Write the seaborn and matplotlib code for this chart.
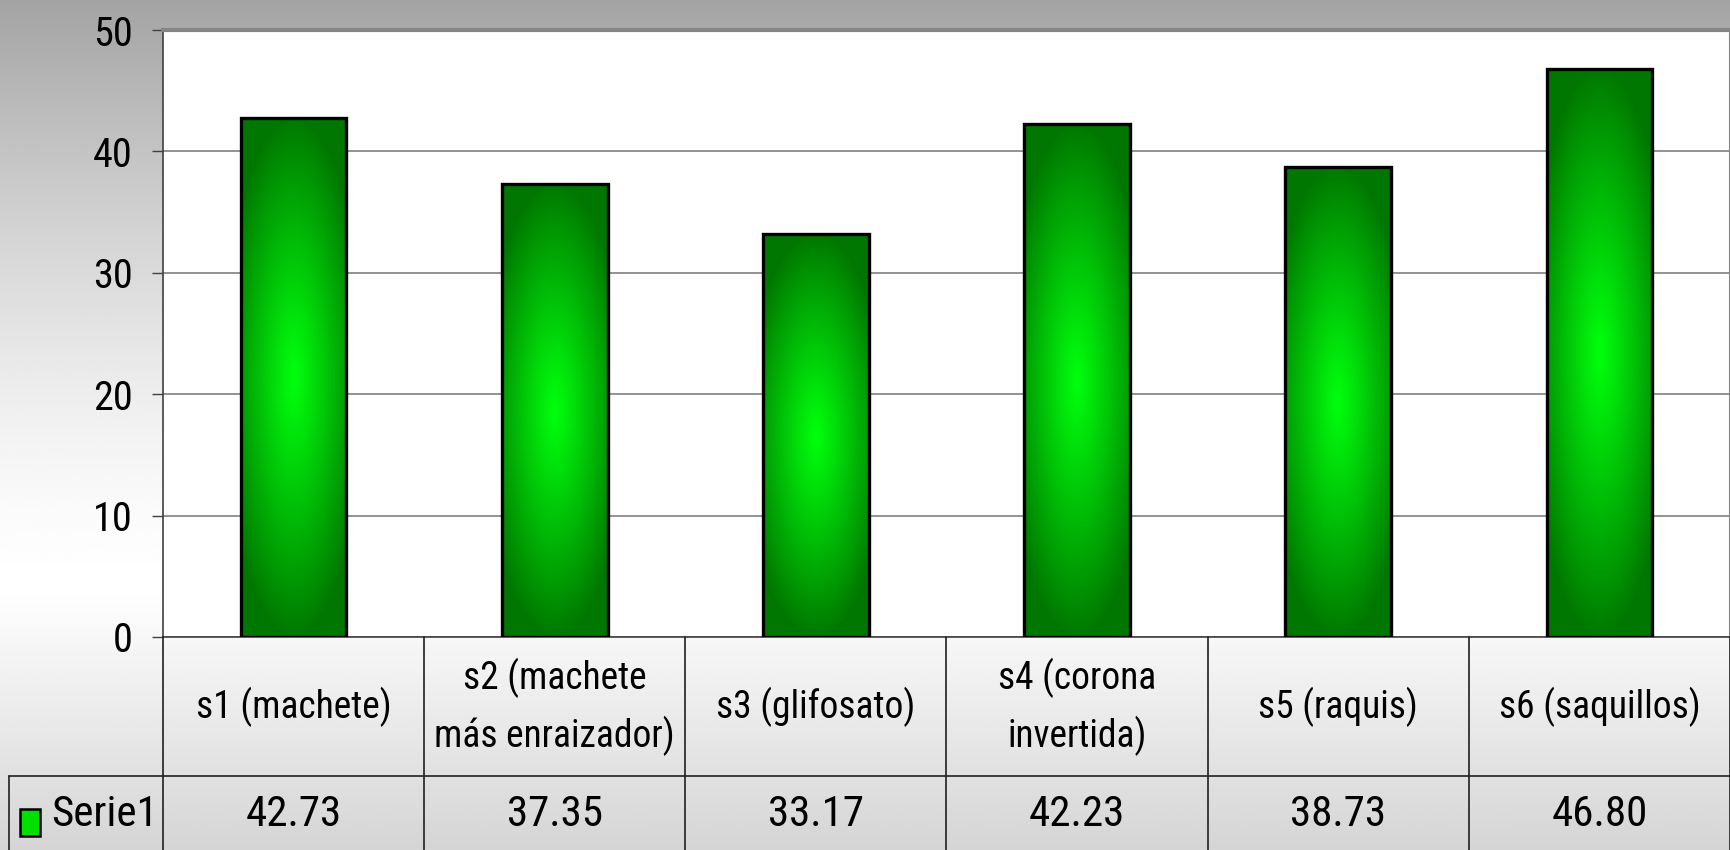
import numpy as np
import matplotlib
matplotlib.use("Agg")
import matplotlib.pyplot as plt
from matplotlib import font_manager
from matplotlib.patches import Rectangle
from matplotlib.lines import Line2D
import seaborn as sns

# ---- data ----
categories = ["s1 (machete)", "s2 (machete\nmás enraizador)", "s3 (glifosato)",
              "s4 (corona\ninvertida)", "s5 (raquis)", "s6 (saquillos)"]
values = [42.73, 37.35, 33.17, 42.23, 38.73, 46.80]
series_name = "Serie1"
y_ticks = [0, 10, 20, 30, 40, 50]

sns.set_style("white")
installed = {f.name for f in font_manager.fontManager.ttflist}
narrow_choices = ["Liberation Sans Narrow", "Arial Narrow", "Nimbus Sans Narrow",
                  "Roboto Condensed", "Archivo Narrow", "PT Sans Narrow",
                  "Liberation Sans"]
family = next(f for f in narrow_choices if f in installed or f == "Liberation Sans")
plt.rcParams["font.family"] = [family, "DejaVu Sans"]

W, H, DPI = 1731, 850, 100
fig = plt.figure(figsize=(W / DPI, H / DPI), dpi=DPI)

# figure background: grey at the top fading to white, then light grey at the bottom
bg = fig.add_axes([0, 0, 1, 1], zorder=-10)
yy = np.linspace(0, H, 400)
v = np.where(yy < 590, 255 - 92 * (1 - yy / 590) ** 1.5,
             255 - 42 * ((yy - 590) / (H - 590)))
grad = np.repeat((v / 255.0)[:, None], 2, axis=1)
bg.imshow(grad, cmap="gray", vmin=0, vmax=1, aspect="auto",
          extent=[0, 1, 1, 0], interpolation="bicubic")
bg.set_xlim(0, 1); bg.set_ylim(1, 0)
bg.axis("off")

# plot area in pixel geometry
left_px, right_px, top_px, bottom_px = 163, 1730, 30, 637
ax = fig.add_axes([left_px / W, 1 - bottom_px / H,
                   (right_px - left_px) / W, (bottom_px - top_px) / H])
ax.set_facecolor("white")

sns.barplot(x=list(range(len(values))), y=values, ax=ax, width=0.405,
            color="#00c000", edgecolor="black", linewidth=2.4, zorder=3)

ax.set_ylim(0, 50)
ax.set_xlim(-0.5, len(values) - 0.5)
ax.set_yticks(y_ticks)
ax.set_yticklabels([str(t) for t in y_ticks])
ax.set_xticks([])
ax.set_xlabel("")
ax.set_ylabel("")
ax.tick_params(axis="y", direction="out", length=8, width=1, color="#404040",
               labelsize=29, pad=14, left=True, labelcolor="black")
ax.yaxis.grid(True, color="#808080", linewidth=1.2, zorder=0)
ax.set_axisbelow(True)

for side in ["left", "bottom"]:
    ax.spines[side].set_color("#404040")
    ax.spines[side].set_linewidth(1.2)
ax.spines["top"].set_color("#858585")
ax.spines["top"].set_linewidth(3)
ax.spines["right"].set_color("#858585")
ax.spines["right"].set_linewidth(1.5)
for s in ax.spines.values():
    s.set_visible(True)

# shaded fill for each bar: dark green rim, bright green core
n = 200
gx = np.linspace(-1, 1, n)
gy = np.linspace(-1, 1, 3 * n)
GX, GY = np.meshgrid(gx, gy)
d = np.clip(np.sqrt((0.75 * GX) ** 2 + GY ** 2), 0, 1) ** 1.1
dark = np.array([0.0, 0.47, 0.0])
bright = np.array([0.0, 1.0, 0.05])
shade = bright[None, None, :] * (1 - d[..., None]) + dark[None, None, :] * d[..., None]

for p in list(ax.patches):
    x0, y0 = p.get_x(), p.get_y()
    w, h = p.get_width(), p.get_height()
    im = ax.imshow(shade, extent=[x0, x0 + w, y0, y0 + h], aspect="auto",
                   zorder=2.5, interpolation="bicubic")
    im.set_clip_path(p)
    p.set_facecolor("none")
    p.set_zorder(4)
ax.set_xlim(-0.5, len(values) - 0.5)
ax.set_ylim(0, 50)

# data table under the axes
tr = ax.get_xaxis_transform()
ax_h = bottom_px - top_px
table_bottom = -(H + 5 - bottom_px) / ax_h
cat_y = -(707 - bottom_px) / ax_h
val_y = -(815 - bottom_px) / ax_h

for i, (cat, val) in enumerate(zip(categories, values)):
    ax.text(i, cat_y, cat, transform=tr, ha="center", va="center",
            fontsize=27, linespacing=1.55, color="black", clip_on=False)
    ax.text(i, val_y, f"{val:.2f}", transform=tr, ha="center", va="center",
            fontsize=31, color="black", clip_on=False)

line_kw = dict(color="#202020", linewidth=1.2, clip_on=False, zorder=5)
for k in range(len(values) + 1):
    xk = k - 0.5
    ax.add_line(Line2D([xk, xk], [0, table_bottom], transform=tr, **line_kw))

# horizontal divider between rows, running through the series-name cell
fig_tr = fig.transFigure
ysplit = 1 - 776 / H
fig.add_artist(Line2D([9 / W, right_px / W], [ysplit, ysplit], transform=fig_tr,
                      color="#202020", linewidth=1.2))
fig.add_artist(Line2D([9 / W, 9 / W], [ysplit, 0], transform=fig_tr,
                      color="#202020", linewidth=1.2))

# series key inside the table
fig.add_artist(Rectangle((20 / W, 1 - 836 / H), 20 / W, 27 / H, transform=fig_tr,
                         facecolor="#00e000", edgecolor="black", linewidth=1.8))
fig.text(51 / W, 1 - 815 / H, series_name, ha="left", va="center",
         fontsize=31, color="black")

fig.savefig("out.png", dpi=DPI)
